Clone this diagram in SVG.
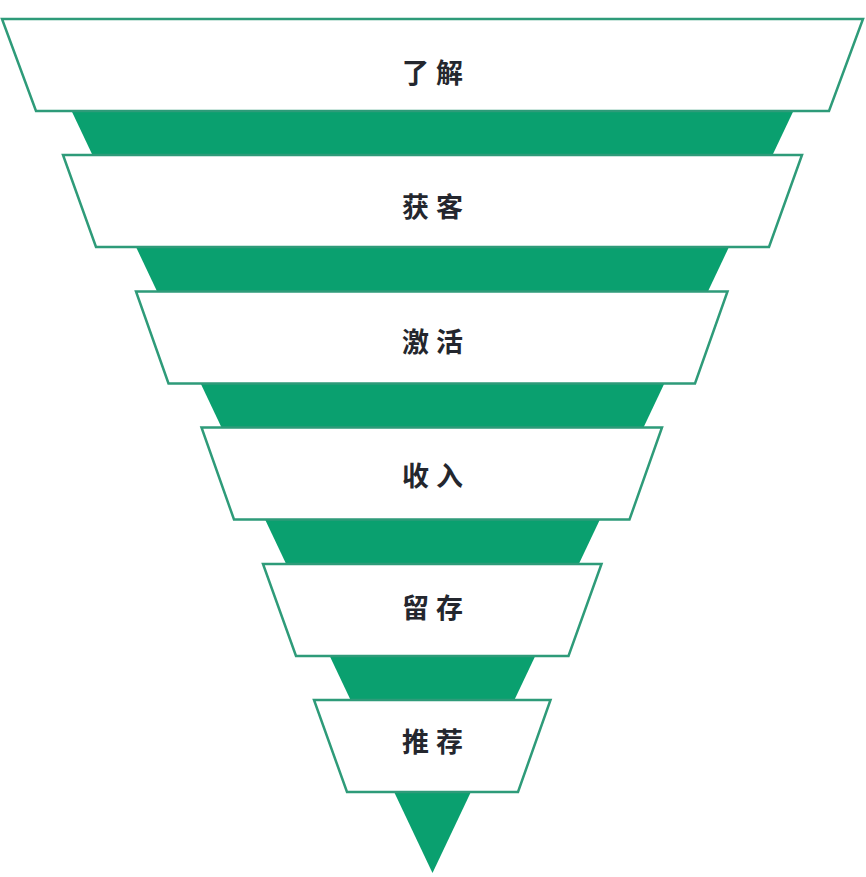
<svg xmlns="http://www.w3.org/2000/svg" width="866" height="877" viewBox="0 0 866 877">
<style>
.box{fill:#ffffff;stroke:#2e9b79;stroke-width:2.5;stroke-linejoin:miter}
.funnel{fill:#0aa06f}
.lbl{font-family:"Noto Sans CJK SC","Noto Sans",sans-serif;font-size:27px;font-weight:700;fill:#24272e;text-anchor:middle;dominant-baseline:central;letter-spacing:7px}
</style>
<rect width="866" height="877" fill="#ffffff"/>
<g id="connectors">
<polygon class="funnel" points="66.4,100 798.6,100 432.5,873"/>
</g>
<g id="node-1">
<polygon class="box" points="2,19 863,19 829,111 36,111"/>
<text class="lbl" x="436" y="71.5">了解</text>
</g>
<g id="node-2">
<polygon class="box" points="63,155 802,155 769,247 96,247"/>
<text class="lbl" x="436" y="205.5">获客</text>
</g>
<g id="node-3">
<polygon class="box" points="136,291.5 727.5,291.5 695,383.5 168.5,383.5"/>
<text class="lbl" x="436" y="340.3">激活</text>
</g>
<g id="node-4">
<polygon class="box" points="201.5,427.5 662,427.5 629.5,519.5 234,519.5"/>
<text class="lbl" x="436" y="474">收入</text>
</g>
<g id="node-5">
<polygon class="box" points="263,564 601.5,564 568.5,656 296,656"/>
<text class="lbl" x="436" y="606.5">留存</text>
</g>
<g id="node-6">
<polygon class="box" points="314,700 550.5,700 518,792 347,792"/>
<text class="lbl" x="436" y="740">推荐</text>
</g>
</svg>
